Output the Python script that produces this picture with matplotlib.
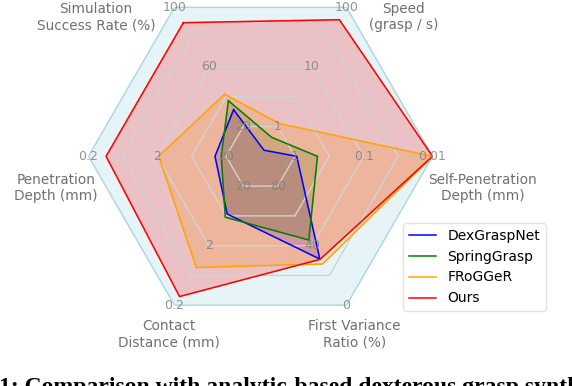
import numpy as np
import matplotlib
matplotlib.use("Agg")
import matplotlib.pyplot as plt

# ---------------- data ----------------
categories = ["Simulation\nSuccess Rate (%)", "Speed\n(grasp / s)",
              "Self-Penetration\nDepth (mm)", "First Variance\nRatio (%)",
              "Contact\nDistance (mm)", "Penetration\nDepth (mm)"]
axis_angles_deg = [120, 60, 0, -60, -120, 180]
tick_labels = [["20", "60", "100"],
               ["1", "10", "100"],
               ["1", "0.1", "0.01"],
               ["80", "40", "0"],
               ["20", "2", "0.2"],
               ["20", "2", "0.2"]]
log_axis = [False, True, True, False, True, True]

methods = ["DexGraspNet", "SpringGrasp", "FRoGGeR", "Ours"]
colors = ["blue", "green", "orange", "red"]
dexgraspnet = [31.3, 0.40, 0.94, 31.0, 6.8, 13.8]
springgrasp = [37.3, 0.66, 0.47, 43.8, 6.0, 17.0]
frogger = [41.7, 1.12, 0.01, 27.7, 0.86, 2.1]
ours = [89.7, 62.0, 0.01, 30.8, 0.28, 0.36]
series = [dexgraspnet, springgrasp, frogger, ours]

caption = "1: Comparison with analytic-based dexterous grasp synthesis"

# -------------- helpers --------------
def to_radius(v, i):
    f = np.log10 if log_axis[i] else (lambda x: x)
    inner = float(tick_labels[i][0])
    outer = float(tick_labels[i][-1])
    return 0.2 + 0.8 * (f(v) - f(inner)) / (f(outer) - f(inner))

theta = np.deg2rad(axis_angles_deg)
theta_closed = np.append(theta, theta[0])

W, H = 572, 386
cx, cy, R = 260.5, 156.3, 172.0
fig = plt.figure(figsize=(W / 100, H / 100), dpi=100)
ax = fig.add_axes([(cx - R) / W, (H - cy - R) / H, 2 * R / W, 2 * R / H],
                  projection="polar")
ax.set_facecolor("none")
ax.spines["polar"].set_visible(False)
ax.grid(False)
ax.set_xticks([])
ax.set_yticks([])
ax.set_ylim(0, 1)

# background hexagon
ax.fill(theta_closed, [1.0] * 7, color="lightblue", alpha=0.3, zorder=0)
ax.plot(theta_closed, [1.0] * 7, color="lightblue", lw=1.0, zorder=1)
# grid hexagons (drawn above the fills)
for r in [0.2, 0.4, 0.6, 0.8]:
    ax.plot(theta_closed, [r] * 7, color="lightgray", lw=1.0, zorder=2.5)

# series
for name, vals, col in zip(methods, series, colors):
    rr = [to_radius(v, i) for i, v in enumerate(vals)]
    rr.append(rr[0])
    ax.plot(theta_closed, rr, color=col, lw=1.1, label=name, zorder=3)
    ax.fill(theta_closed, rr, color=col, alpha=0.2, zorder=2)

# per-axis tick labels
for i, t in enumerate(theta):
    for r, lab in zip([0.2, 0.6, 1.0], tick_labels[i]):
        ax.text(t, r, lab, ha="center", va="center", fontsize=9,
                color="gray", alpha=0.85, zorder=5)

# axis labels (pixel centres converted to axes fraction)
label_px = [(96, 17), (403.5, 17), (483, 188), (354.5, 334), (169, 334), (56, 188)]
for lab, (px, py) in zip(categories, label_px):
    ax.text(0.5 + (px - cx) / (2 * R), 0.5 - (py - cy) / (2 * R), lab,
            transform=ax.transAxes, ha="center", va="center",
            fontsize=9.8, color="#707070", linespacing=1.25)

leg = fig.legend(loc="upper left", bbox_to_anchor=(403 / W, 1 - 223 / H),
                 borderaxespad=0, fontsize=10, frameon=True)
leg.get_frame().set_edgecolor("#dddddd")

fig.text(-1 / W, -7 / H, caption, ha="left", va="baseline",
         fontsize=17, fontweight="bold", family="Liberation Serif")

fig.savefig("out.png", dpi=100)
